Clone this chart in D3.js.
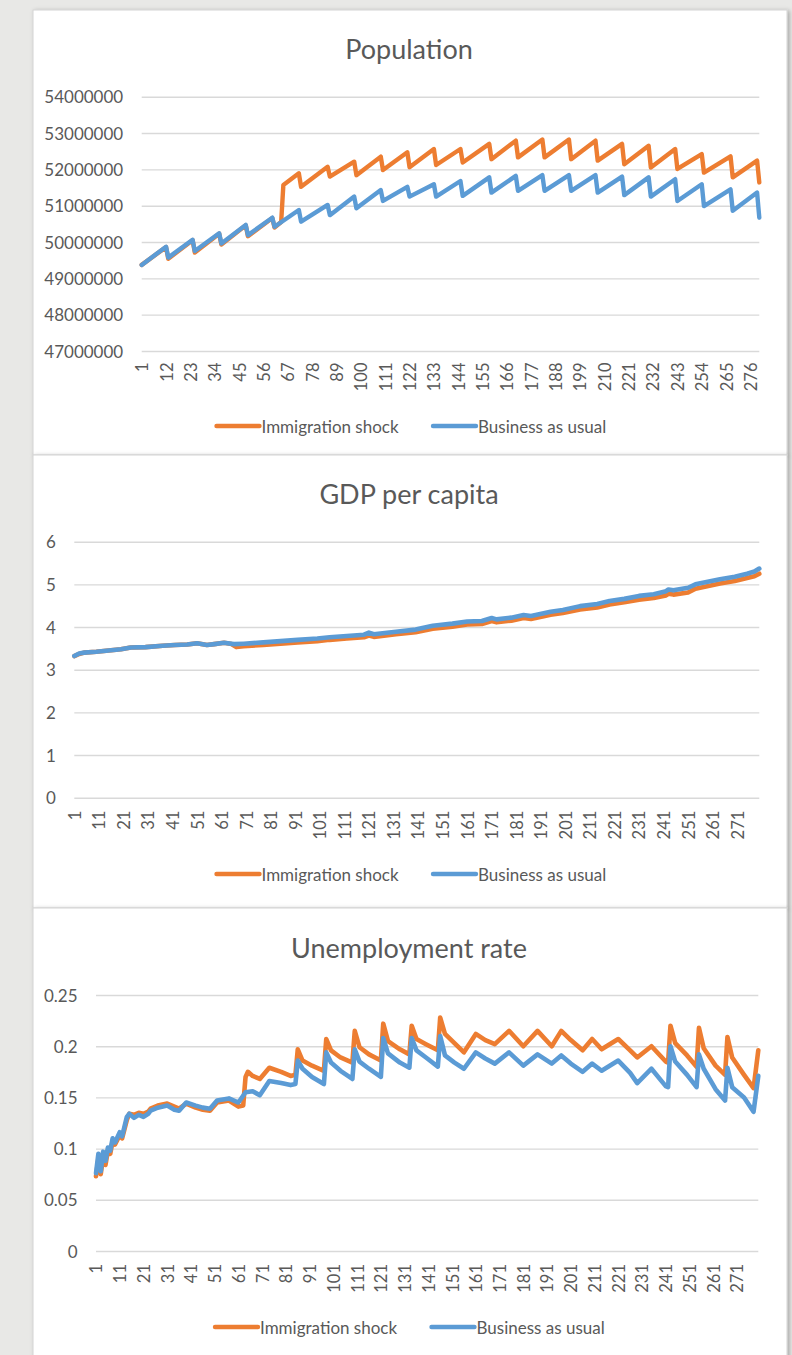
<!DOCTYPE html>
<html>
<head>
<meta charset="utf-8">
<script src="https://cdn.jsdelivr.net/npm/d3@7"></script>
<style>
  body { margin: 0; background: #e8e8e6; }
  text { font-family: Lato, "Open Sans", sans-serif; fill: #595959; }
</style>
</head>
<body>
<svg id="chart" width="792" height="1355"></svg>
<script>
// ---- data ----
var seriesNames = ["Immigration shock", "Business as usual"];
var seriesColors = ["#ED7D31", "#5B9BD5"];

// x labels
var ticks11 = [1,12,23,34,45,56,67,78,89,100,111,122,133,144,155,166,177,188,199,210,221,232,243,254,265,276];
var ticks10 = [1,11,21,31,41,51,61,71,81,91,101,111,121,131,141,151,161,171,181,191,201,211,221,231,241,251,261,271];

// y ticks
var popTicks = [47,48,49,50,51,52,53,54];         // millions
var gdpTicks = [0,1,2,3,4,5,6];
var unempTicks = [0,0.05,0.1,0.15,0.2,0.25];

// population, millions, [period, value] at each corner of the line
var popShock = [[1,49.37],[12,49.86],[13,49.54],[24,50.05],[25,49.71],[36,50.23],[37,49.93],[48,50.46],[49,50.16],
  [60,50.66],[61,50.40],[64,50.55],[65,51.57],[72,51.89],[73,51.52],[85,52.07],[86,51.80],[97,52.21],[98,51.84],
  [109,52.35],[110,51.98],[121,52.47],[122,52.06],[133,52.56],[134,52.12],[145,52.56],[146,52.19],[158,52.70],[159,52.28],
  [170,52.79],[171,52.33],[182,52.82],[183,52.33],[194,52.82],[195,52.28],[206,52.79],[207,52.24],[218,52.70],[219,52.14],
  [230,52.65],[231,52.05],[242,52.56],[243,52.01],[254,52.42],[255,51.91],[267,52.36],[268,51.78],[279,52.24],[280,51.64]];
var popBau = [[1,49.37],[12,49.87],[13,49.57],[24,50.06],[25,49.75],[36,50.24],[37,49.96],[48,50.47],[49,50.19],
  [60,50.67],[61,50.42],[72,50.88],[73,50.56],[85,51.02],[86,50.74],[97,51.25],[98,50.93],[109,51.43],[110,51.13],
  [121,51.52],[122,51.25],[133,51.59],[134,51.25],[145,51.68],[146,51.27],[158,51.78],[159,51.36],[170,51.82],[171,51.41],
  [182,51.84],[183,51.41],[194,51.84],[195,51.41],[206,51.84],[207,51.36],[218,51.80],[219,51.29],[230,51.78],[231,51.25],
  [242,51.73],[243,51.13],[254,51.59],[255,50.99],[267,51.45],[268,50.86],[279,51.36],[280,50.67]];

// GDP per capita
var gdpShock = [[1,3.32],[3,3.37],[5,3.40],[10,3.42],[15,3.45],[20,3.48],[24,3.52],[30,3.53],[37,3.56],[42,3.58],
  [47,3.59],[51,3.62],[55,3.58],[58,3.60],[62,3.63],[65,3.60],[67,3.53],[70,3.55],[78,3.58],[85,3.61],[92,3.64],
  [100,3.67],[105,3.70],[112,3.73],[119,3.76],[121,3.80],[123,3.77],[132,3.83],[140,3.88],[147,3.96],[155,4.01],
  [161,4.06],[167,4.07],[171,4.14],[173,4.11],[179,4.15],[184,4.21],[187,4.19],[195,4.29],[200,4.33],[207,4.41],
  [214,4.46],[219,4.53],[225,4.58],[231,4.64],[237,4.68],[242,4.74],[243,4.78],[245,4.76],[251,4.81],[254,4.90],
  [264,5.02],[270,5.08],[275,5.15],[278,5.19],[280,5.25]];
var gdpBau = [[1,3.32],[3,3.38],[5,3.40],[10,3.42],[15,3.45],[20,3.48],[24,3.52],[30,3.53],[37,3.56],[42,3.58],
  [47,3.59],[51,3.62],[55,3.58],[58,3.60],[62,3.63],[66,3.60],[70,3.61],[78,3.64],[85,3.67],[92,3.70],[100,3.73],
  [105,3.76],[112,3.79],[119,3.82],[121,3.87],[123,3.83],[132,3.89],[140,3.94],[147,4.03],[155,4.08],[161,4.13],
  [167,4.14],[171,4.21],[173,4.18],[179,4.22],[184,4.28],[187,4.26],[195,4.36],[200,4.40],[207,4.49],[214,4.54],
  [219,4.61],[225,4.66],[231,4.73],[237,4.77],[242,4.84],[243,4.88],[245,4.86],[251,4.92],[254,5.00],[264,5.12],
  [270,5.18],[275,5.25],[278,5.30],[280,5.37]];

// unemployment rate
var unempShock = [[1,0.073],[2,0.090],[3,0.075],[4,0.092],[5,0.084],[6,0.098],[7,0.095],[8,0.107],[9,0.104],
  [11,0.113],[12,0.110],[14,0.128],[15,0.134],[17,0.133],[19,0.135],[21,0.134],[23,0.136],[24,0.139],[27,0.142],
  [31,0.144],[34,0.141],[36,0.139],[39,0.144],[43,0.140],[46,0.138],[49,0.137],[52,0.145],[57,0.147],[61,0.141],
  [63,0.142],[64,0.170],[65,0.175],[67,0.171],[70,0.168],[74,0.179],[79,0.175],[83,0.171],[85,0.172],[86,0.197],
  [88,0.186],[92,0.181],[97,0.176],[98,0.207],[100,0.196],[104,0.189],[109,0.184],[110,0.215],[112,0.199],[116,0.192],
  [121,0.186],[122,0.222],[124,0.205],[129,0.197],[133,0.192],[134,0.220],[136,0.207],[140,0.202],[145,0.196],
  [146,0.228],[148,0.212],[152,0.203],[156,0.194],[161,0.212],[165,0.206],[169,0.202],[175,0.215],[181,0.200],
  [187,0.215],[193,0.200],[197,0.215],[201,0.206],[206,0.196],[210,0.207],[214,0.197],[221,0.207],[226,0.196],
  [229,0.189],[235,0.200],[241,0.185],[242,0.184],[243,0.220],[245,0.203],[250,0.191],[254,0.180],[255,0.218],
  [257,0.198],[262,0.181],[266,0.172],[267,0.209],[269,0.189],[274,0.172],[278,0.159],[280,0.196]];
var unempBau = [[1,0.076],[2,0.095],[3,0.078],[4,0.097],[5,0.088],[6,0.101],[7,0.098],[8,0.110],[9,0.106],
  [11,0.116],[12,0.112],[14,0.131],[15,0.134],[17,0.130],[19,0.133],[21,0.131],[23,0.134],[24,0.137],[27,0.140],
  [31,0.142],[34,0.138],[36,0.137],[39,0.145],[43,0.142],[46,0.140],[49,0.139],[52,0.147],[57,0.149],[61,0.145],
  [64,0.155],[67,0.156],[70,0.152],[74,0.166],[79,0.164],[83,0.162],[85,0.163],[86,0.186],[88,0.178],[92,0.170],
  [97,0.163],[98,0.194],[100,0.184],[104,0.176],[109,0.168],[110,0.197],[112,0.185],[116,0.178],[121,0.170],
  [122,0.208],[124,0.193],[129,0.184],[133,0.179],[134,0.208],[136,0.196],[140,0.189],[145,0.180],[146,0.210],
  [148,0.191],[152,0.184],[156,0.178],[161,0.194],[165,0.188],[169,0.183],[175,0.194],[181,0.181],[187,0.192],
  [193,0.183],[197,0.191],[201,0.183],[206,0.175],[210,0.183],[214,0.176],[221,0.186],[226,0.174],[229,0.164],
  [235,0.178],[241,0.161],[242,0.160],[243,0.200],[245,0.185],[250,0.172],[254,0.160],[255,0.192],[257,0.178],
  [262,0.158],[266,0.147],[267,0.179],[269,0.160],[274,0.150],[278,0.136],[280,0.171]];

var periods = [1, 280];

// ---- drawing ----
var svg = d3.select('#chart');

var defs = svg.append('defs');
defs.append('filter').attr('id', 'shadow').attr('x', '-5%').attr('y', '-5%').attr('width', '110%').attr('height', '110%')
    .append('feDropShadow').attr('dx', 2).attr('dy', 1).attr('stdDeviation', 2)
    .attr('flood-color', '#000').attr('flood-opacity', 0.28);

var panels = [
  { title: 'Population', top: 10, bottom: 455, left: 141.7, right: 759.3, yTop: 96.7, yBottom: 351,
    titleY: 59, legendY: 426, xTicks: ticks11, xOff: 11.5, yTicks: popTicks, yDomain: [47, 54],
    fmt: function (d) { return d3.format('d')(d * 1000000); }, lw: 4.4,
    series: [popShock, popBau], sw: [216.5, 433], tx: [261.5, 478] },
  { title: 'GDP per capita', top: 455, bottom: 908, left: 74.3, right: 759.3, yTop: 541.7, yBottom: 797.7,
    titleY: 504, legendY: 874, xTicks: ticks10, xOff: 13, yTicks: gdpTicks, yDomain: [0, 6],
    fmt: d3.format('d'), series: [gdpShock, gdpBau], lw: 4.6, sw: [216.5, 433], tx: [261.5, 478] },
  { title: 'Unemployment rate', top: 908, bottom: 1372, left: 96, right: 758.3, yTop: 995, yBottom: 1251,
    titleY: 958, legendY: 1327, xTicks: ticks10, xOff: 13, yTicks: unempTicks, yDomain: [0, 0.25],
    fmt: function (d) { return d === 0 ? '0' : String(+d.toFixed(2)); }, lw: 4.6,
    series: [unempShock, unempBau], sw: [215, 431.5], tx: [260, 476.5] }
];

panels.forEach(drawPanel);

function drawPanel(cfg) {
    var g = svg.append('g');

    g.append('rect')
        .attr('x', 33).attr('y', cfg.top)
        .attr('width', 754).attr('height', cfg.bottom - cfg.top)
        .attr('fill', '#fff').attr('stroke', '#d4d4d4').attr('stroke-width', 1)
        .attr('filter', 'url(#shadow)');

    var x = d3.scaleLinear().domain(periods).range([cfg.left, cfg.right]),
        y = d3.scaleLinear().domain(cfg.yDomain).range([cfg.yBottom, cfg.yTop]);

    g.append('text')
        .attr('x', 409).attr('y', cfg.titleY)
        .attr('text-anchor', 'middle')
        .attr('font-size', 27)
        .text(cfg.title);

    // gridlines + value labels
    g.append('g')
        .attr('transform', 'translate(' + cfg.left + ',0)')
        .call(d3.axisLeft(y).tickValues(cfg.yTicks).tickSize(-(cfg.right - cfg.left)).tickPadding(18.5).tickFormat(cfg.fmt))
        .call(function (a) { a.select('.domain').remove(); })
        .call(function (a) { a.selectAll('line').attr('stroke', '#d9d9d9').attr('stroke-width', 1.4); })
        .call(function (a) {
            a.selectAll('text').attr('font-size', 17).attr('fill', '#595959')
                .attr('font-family', 'Lato, sans-serif').attr('dy', '0.36em');
        });

    // category labels, rotated
    g.append('g')
        .attr('transform', 'translate(0,' + cfg.yBottom + ')')
        .call(d3.axisBottom(x).tickValues(cfg.xTicks).tickSize(0).tickFormat(d3.format('d')))
        .call(function (a) { a.select('.domain').remove(); })
        .call(function (a) {
            a.selectAll('text')
                .attr('transform', 'rotate(-90)')
                .attr('text-anchor', 'end')
                .attr('x', -cfg.xOff).attr('y', 0).attr('dy', '0.36em')
                .attr('font-size', 16.5).attr('fill', '#595959')
                .attr('font-family', 'Lato, sans-serif');
        });

    var line = d3.line()
        .x(function (d) { return x(d[0]); })
        .y(function (d) { return y(d[1]); });

    cfg.series.forEach(function (s, i) {
        g.append('path')
            .datum(s)
            .attr('d', line)
            .attr('fill', 'none')
            .attr('stroke', seriesColors[i])
            .attr('stroke-width', cfg.lw)
            .attr('stroke-linejoin', 'round')
            .attr('stroke-linecap', 'round');
    });

    // legend
    seriesNames.forEach(function (name, i) {
        g.append('line')
            .attr('x1', cfg.sw[i]).attr('x2', cfg.sw[i] + 43)
            .attr('y1', cfg.legendY).attr('y2', cfg.legendY)
            .attr('stroke', seriesColors[i]).attr('stroke-width', 4.4)
            .attr('stroke-linecap', 'round');
        g.append('text')
            .attr('x', cfg.tx[i]).attr('y', cfg.legendY + 1)
            .attr('dy', '0.36em')
            .attr('font-size', 17)
            .text(name);
    });
}
</script>
</body>
</html>
